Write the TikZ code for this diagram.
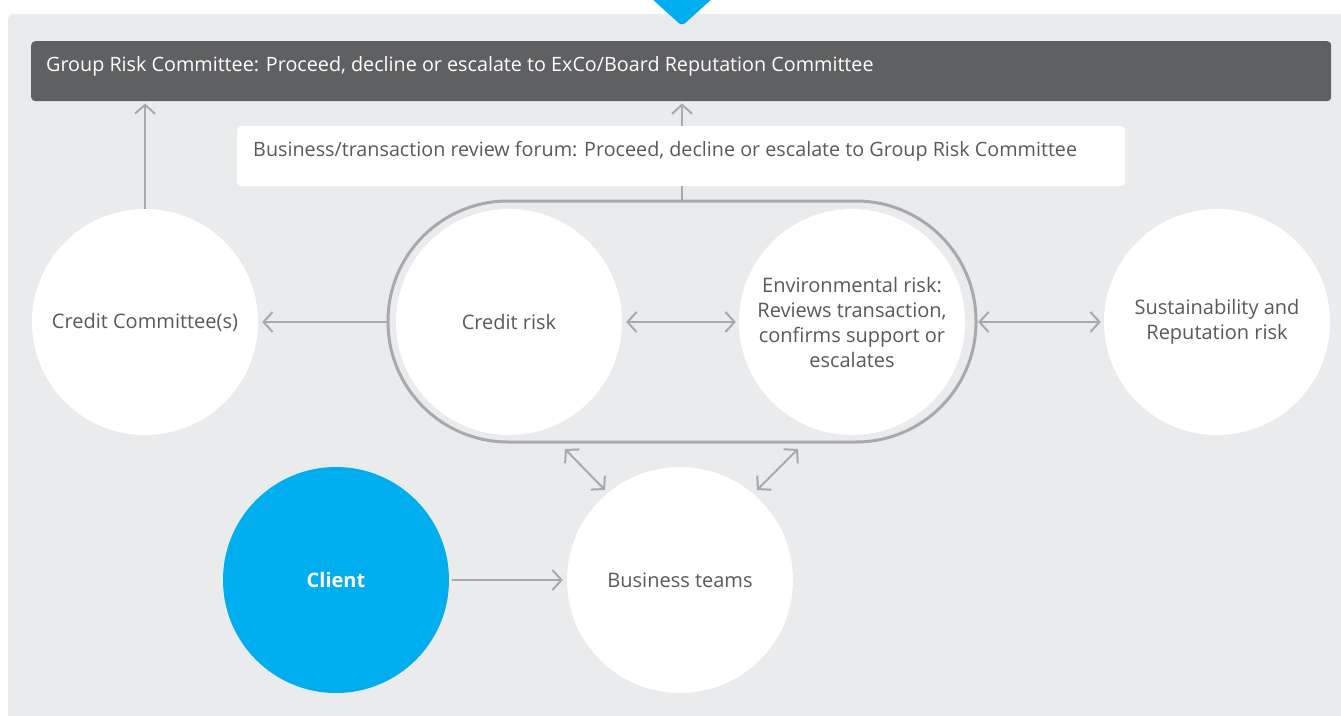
\documentclass[tikz,border=0pt]{standalone}
\usepackage{fontspec}
\setmainfont{Open Sans}
\usetikzlibrary{arrows.meta}
\definecolor{panel}{HTML}{EAEBED}
\definecolor{darkbar}{HTML}{5F6062}
\definecolor{lgray}{HTML}{A7A9AC}
\definecolor{txt}{HTML}{58595B}
\definecolor{sblue}{HTML}{00AEEF}
\tikzset{
  circ/.style={circle, fill=white, minimum size=226pt, inner sep=0pt, text=txt, align=center, font=\fontsize{20}{25}\selectfont},
  arr/.style={draw=lgray, line width=2pt, -{Straight Barb[length=9pt,width=20pt]}},
  darr/.style={draw=lgray, line width=2pt, {Straight Barb[length=9pt,width=20pt]}-{Straight Barb[length=9pt,width=20pt]}},
  plain/.style={draw=lgray, line width=2pt},
}
\begin{document}
\begin{tikzpicture}[x=1pt,y=-1pt]
\useasboundingbox (0,0) rectangle (1341,715);
% panel
\fill[panel, rounded corners=5pt] (8,14) rectangle (1360,740);
% blue triangle
\fill[sblue, rounded corners=4pt] (640,-12) -- (724,-12) -- (682,26) -- cycle;
% top bar
\node[fill=darkbar, rounded corners=4pt, minimum width=1300pt, minimum height=60pt, inner sep=0pt, anchor=north west] (bar) at (31,41) {};
\node[anchor=west, text=white, font=\fontsize{19.75}{23}\selectfont, inner sep=0pt] (bartxt) at (46,66) {Group Risk Committee: Proceed, decline or escalate to ExCo/Board Reputation Committee};
% white forum box
\node[fill=white, rounded corners=4pt, minimum width=888pt, minimum height=60pt, inner sep=0pt, anchor=north west] (box) at (237,126) {};
\node[anchor=west, text=txt, font=\fontsize{19.75}{23}\selectfont, inner sep=0pt] (boxtxt) at (253,151) {Business/transaction review forum: Proceed, decline or escalate to Group Risk Committee};
% stadium
\node[draw=lgray, line width=3pt, rounded corners=120pt, minimum width=588pt, minimum height=241pt, inner sep=0pt] (forum) at (682,321.5) {};
% circles
\node[circ] (cc) at (145,322) {Credit Committee(s)};
\node[circ] (cr) at (509,322) {Credit risk};
\node[circ] (env) at (852,322) {Environmental risk:\\Reviews transaction,\\confirms support or\\escalates};
\node[circ] (sus) at (1217,322) {Sustainability and\\Reputation risk};
\node[circ, fill=sblue, text=white, font=\fontsize{20}{25}\selectfont\bfseries] (cl) at (336,580) {Client};
\node[circ] (bt) at (680,580) {Business teams};
% connectors
\draw[arr, shorten >=2pt] (cc.north) -- (cc.north |- bar.south);
\draw[plain] (forum.north) -- (forum.north |- box.south);
\draw[arr, shorten >=2pt] (box.north -| forum.north) -- (forum.north |- bar.south);
\draw[arr, shorten >=4pt] (cc.east -| forum.west) -- (cc.east);
\draw[darr, shorten <=4pt, shorten >=3pt] (cr.east) -- (env.west);
\draw[darr, shorten <=13pt, shorten >=3pt] (env.east) -- (sus.west);
\draw[arr, shorten <=3pt, shorten >=4pt] (cl.east) -- (bt.west);
\coordinate (d1a) at (565,449);
\coordinate (d1b) at (605,490);
\coordinate (d2a) at (798,449);
\coordinate (d2b) at (757,490);
\draw[darr] (d1a) -- (d1b);
\draw[darr] (d2a) -- (d2b);
\end{tikzpicture}
\end{document}
